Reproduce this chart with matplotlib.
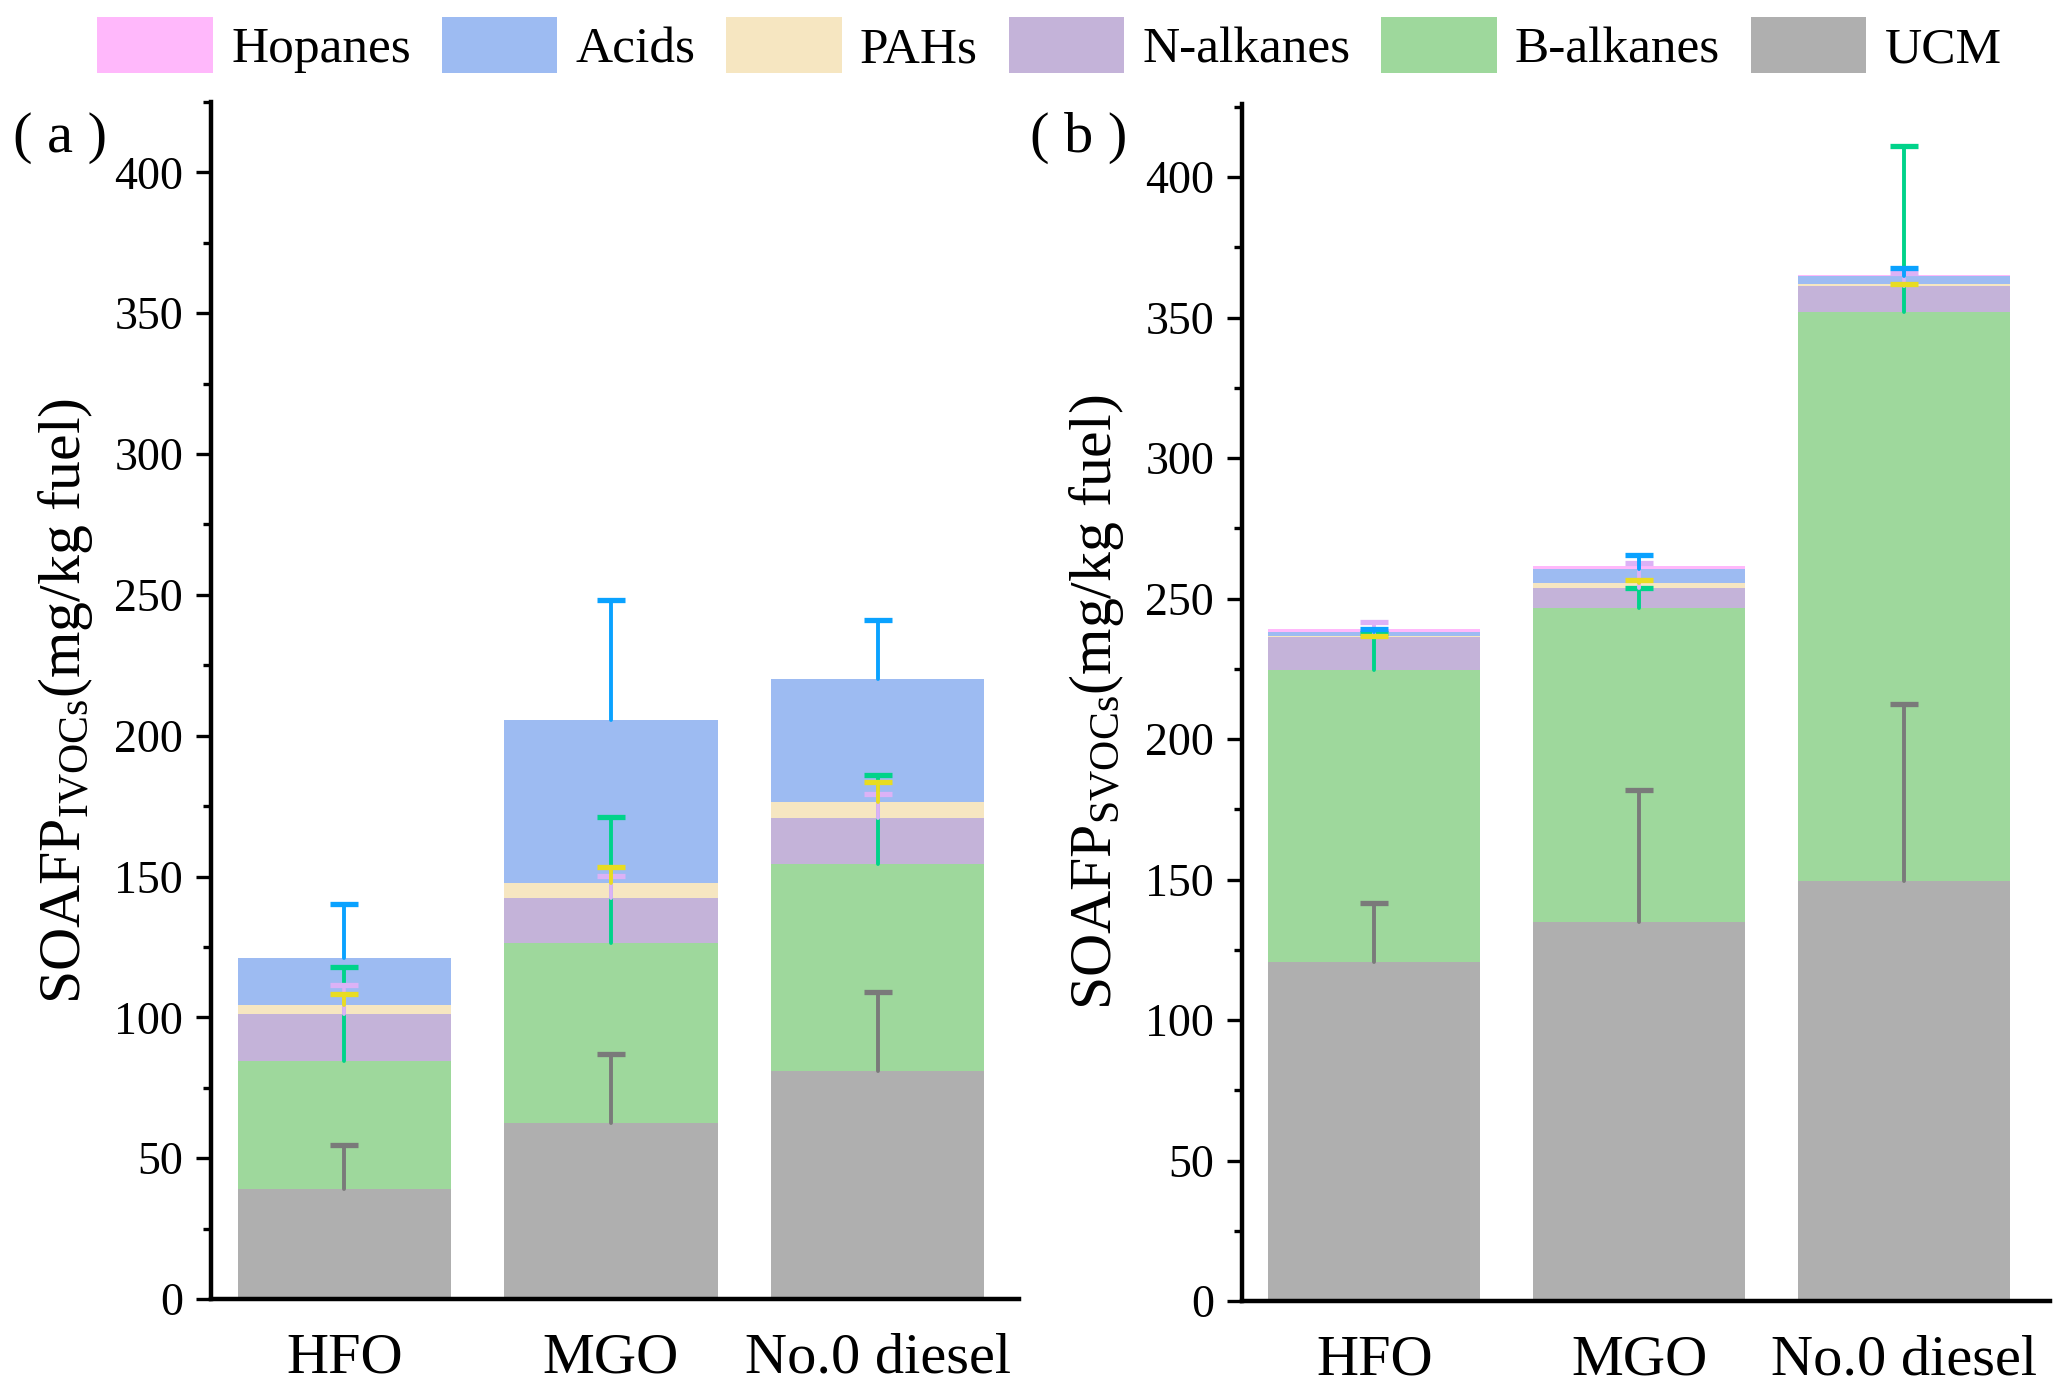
import matplotlib
matplotlib.use("Agg")
import matplotlib.pyplot as plt
import numpy as np
from matplotlib.patches import Patch
from matplotlib.ticker import MultipleLocator

plt.rcParams['font.family'] = ['Liberation Serif', 'DejaVu Serif']
plt.rcParams['mathtext.fontset'] = 'custom'
plt.rcParams['mathtext.rm'] = 'Liberation Serif'
plt.rcParams['mathtext.it'] = 'Liberation Serif:italic'

categories = ['HFO', 'MGO', 'No.0 diesel']
components = ['UCM', 'B-alkanes', 'N-alkanes', 'PAHs', 'Acids', 'Hopanes']

# Panel (a): IVOCs
a_ucm = [39.2, 62.6, 81.1]
a_balk = [45.4, 63.9, 73.5]
a_nalk = [16.5, 16.0, 16.3]
a_pah = [3.2, 5.1, 5.5]
a_acid = [16.7, 58.0, 43.8]
a_hop = [0.0, 0.0, 0.0]
a_err_ucm = [15.4, 24.3, 28.0]
a_err_balk = [33.2, 44.7, 31.4]
a_err_nalk = [10.4, 7.8, 8.5]
a_err_pah = [4.0, 5.8, 7.1]
a_err_acid = [19.2, 42.5, 21.0]

# Panel (b): SVOCs
b_ucm = [120.8, 135.0, 149.5]
b_balk = [103.6, 111.5, 202.6]
b_nalk = [11.8, 7.3, 9.2]
b_pah = [0.4, 1.6, 0.6]
b_acid = [1.5, 5.0, 2.8]
b_hop = [0.9, 1.2, 0.6]
b_err_ucm = [20.7, 46.7, 62.8]
b_err_balk = [13.4, 7.3, 58.9]
b_err_nalk = [5.5, 8.8, 4.4]
b_err_pah = [0.2, 1.1, 0.2]
b_err_acid = [0.9, 5.1, 2.9]

fill_colors = {'UCM': '#afafaf', 'B-alkanes': '#9ed89c', 'N-alkanes': '#c4b3d9',
               'PAHs': '#f6e6c1', 'Acids': '#9dbbf2', 'Hopanes': '#ffb8fb'}
err_colors = {'UCM': '#7a7a7a', 'B-alkanes': '#00d38a', 'N-alkanes': '#dcb2f6',
              'PAHs': '#e8dc22', 'Acids': '#0aa2ff', 'Hopanes': '#f5a8f5'}

W, H = 2067, 1393
fig = plt.figure(figsize=(W / 100, H / 100), dpi=100)
axA = fig.add_axes([211 / W, 1 - 1299 / H, (1019 - 211) / W, (1299 - 102) / H])
axB = fig.add_axes([1242 / W, 1 - 1301 / H, (2050 - 1242) / W, (1301 - 104) / H])


def draw(ax, vals, errs, label, ylim, xr):
    x = np.arange(len(categories))
    bottom = np.zeros(len(categories))
    tops = {}
    for comp in components:
        v = np.array(vals[comp], dtype=float)
        ax.bar(x, v, 0.8, bottom=bottom, color=fill_colors[comp], edgecolor='none', zorder=2)
        bottom = bottom + v
        tops[comp] = bottom.copy()
    for comp in components:
        if comp not in errs:
            continue
        e = np.array(errs[comp], dtype=float)
        cont = ax.errorbar(x, tops[comp], yerr=[np.zeros_like(e), e], fmt='none',
                           ecolor=err_colors[comp], elinewidth=2.8, capsize=10, capthick=3.8,
                           zorder=5)
        caps = cont[1]
        if len(caps) == 2:
            caps[0].set_visible(False)
        for lc in cont[2]:
            lc.set_capstyle('round')
    ax.set_xlim(-0.5, xr)
    ax.set_ylim(*ylim)
    ax.set_xticks(x)
    ax.set_xticklabels(categories, fontsize=42)
    ax.tick_params(axis='x', length=0, pad=24)
    ax.yaxis.set_major_locator(MultipleLocator(50))
    ax.yaxis.set_minor_locator(MultipleLocator(25))
    ax.tick_params(axis='y', which='major', length=11, width=2.4, labelsize=33, pad=9,
                   direction='out')
    ax.tick_params(axis='y', which='minor', length=5.5, width=2.4, direction='out')
    for s in ['top', 'right']:
        ax.spines[s].set_visible(False)
    for s in ['left', 'bottom']:
        ax.spines[s].set_linewidth(3.2)
    ax.set_ylabel(label, fontsize=43, labelpad=14)


draw(axA,
     {'UCM': a_ucm, 'B-alkanes': a_balk, 'N-alkanes': a_nalk, 'PAHs': a_pah,
      'Acids': a_acid, 'Hopanes': a_hop},
     {'UCM': a_err_ucm, 'B-alkanes': a_err_balk, 'N-alkanes': a_err_nalk,
      'PAHs': a_err_pah, 'Acids': a_err_acid},
     r'SOAFP$_{\mathrm{IVOCs}}$(mg/kg fuel)', (0, 425), 2.53)
draw(axB,
     {'UCM': b_ucm, 'B-alkanes': b_balk, 'N-alkanes': b_nalk, 'PAHs': b_pah,
      'Acids': b_acid, 'Hopanes': b_hop},
     {'UCM': b_err_ucm, 'B-alkanes': b_err_balk, 'N-alkanes': b_err_nalk,
      'PAHs': b_err_pah, 'Acids': b_err_acid},
     r'SOAFP$_{\mathrm{SVOCs}}$(mg/kg fuel)', (0, 426), 2.55)

fig.text(13 / W, 1 - 138 / H, '( a )', fontsize=42, va='center', ha='left')
fig.text(1030 / W, 1 - 138 / H, '( b )', fontsize=42, va='center', ha='left')

legend_order = ['Hopanes', 'Acids', 'PAHs', 'N-alkanes', 'B-alkanes', 'UCM']
handles = [Patch(facecolor=fill_colors[c], edgecolor='none', label=c) for c in legend_order]
fig.legend(handles=handles, loc='center', bbox_to_anchor=(0.5 + 16 / W, 1 - 45 / H), ncol=6,
           frameon=False, fontsize=37, handlelength=2.25, handleheight=1.3,
           handletextpad=0.35, columnspacing=0.6, borderaxespad=0)

fig.savefig('out.png', dpi=100)
